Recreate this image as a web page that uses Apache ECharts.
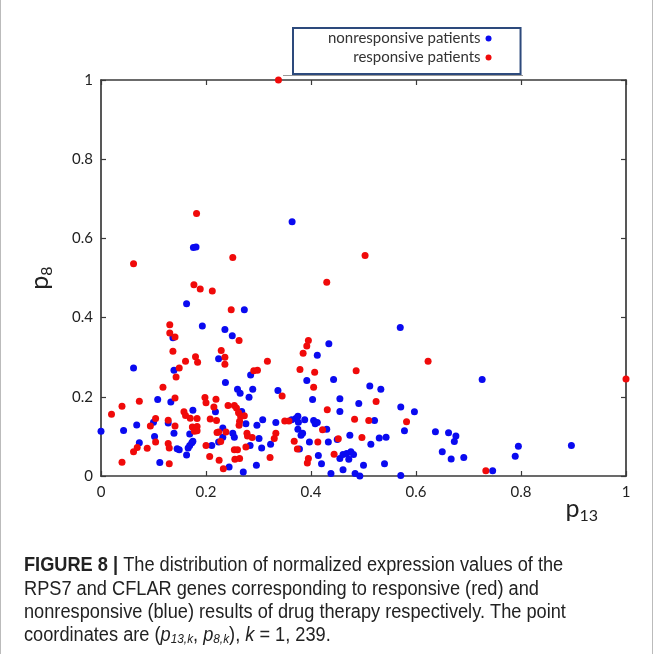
<!DOCTYPE html>
<html>
<head>
<meta charset="utf-8">
<script src="https://cdn.jsdelivr.net/npm/echarts@6/dist/echarts.min.js"></script>
<style>html,body{margin:0;padding:0;background:#fff}#c{width:654px;height:654px}</style>
</head>
<body>
<div id="c"></div>
<script>
// ---- data (p13, p8) ----
const seriesNames = ['nonresponsive patients', 'responsive patients'];
const xTicks = [0, 0.2, 0.4, 0.6, 0.8, 1];
const yTicks = [0, 0.2, 0.4, 0.6, 0.8, 1];

const nonresponsiveP13 = [0.364,0.176,0.181,0.163,0.137,0.193,0.236,0.224,0.062,0.139,0.273,0.250,0.434,0.412,0.285,0.237,0.108,0.133,0.218,0.000,0.043,0.068,0.100,0.128,0.139,0.175,0.169,0.232,0.232,0.224,0.211,0.102,0.073,0.145,0.149,0.166,0.169,0.173,0.175,0.163,0.112,0.260,0.265,0.282,0.289,0.268,0.276,0.251,0.254,0.297,0.308,0.301,0.333,0.337,0.363,0.371,0.375,0.376,0.375,0.384,0.381,0.388,0.323,0.284,0.244,0.271,0.296,0.306,0.378,0.392,0.403,0.443,0.455,0.455,0.405,0.408,0.412,0.430,0.397,0.433,0.450,0.455,0.461,0.468,0.476,0.481,0.472,0.420,0.438,0.461,0.484,0.414,0.474,0.491,0.570,0.726,0.512,0.533,0.571,0.597,0.521,0.578,0.530,0.543,0.514,0.637,0.662,0.676,0.673,0.795,0.896,0.650,0.667,0.691,0.789,0.540,0.500,0.746,0.493,0.571];
const nonresponsiveP8 = [0.642,0.577,0.578,0.435,0.349,0.379,0.370,0.296,0.273,0.267,0.420,0.354,0.334,0.305,0.255,0.236,0.193,0.187,0.162,0.113,0.115,0.129,0.136,0.134,0.108,0.166,0.106,0.121,0.098,0.086,0.077,0.100,0.084,0.069,0.066,0.071,0.077,0.084,0.088,0.053,0.034,0.219,0.209,0.199,0.219,0.163,0.132,0.108,0.098,0.128,0.142,0.095,0.135,0.216,0.142,0.145,0.151,0.136,0.118,0.108,0.103,0.142,0.080,0.077,0.023,0.010,0.027,0.071,0.068,0.241,0.193,0.244,0.195,0.163,0.140,0.132,0.135,0.118,0.086,0.086,0.092,0.044,0.054,0.057,0.061,0.054,0.042,0.031,0.006,0.016,0.006,0.052,0.103,0.183,0.375,0.244,0.227,0.219,0.174,0.162,0.140,0.114,0.096,0.098,0.080,0.112,0.109,0.101,0.087,0.075,0.077,0.061,0.043,0.047,0.050,0.031,0.027,0.013,0.000,0.001];

const responsiveP13 = [0.338,0.182,0.062,0.251,0.503,0.430,0.177,0.189,0.212,0.131,0.131,0.141,0.137,0.161,0.149,0.180,0.184,0.229,0.236,0.236,0.248,0.263,0.395,0.392,0.385,0.317,0.291,0.298,0.379,0.407,0.486,0.143,0.118,0.073,0.141,0.198,0.200,0.219,0.215,0.040,0.020,0.242,0.094,0.104,0.128,0.141,0.158,0.161,0.170,0.183,0.174,0.183,0.178,0.183,0.208,0.220,0.221,0.224,0.238,0.228,0.200,0.104,0.069,0.062,0.088,0.128,0.130,0.207,0.130,0.040,0.225,0.233,0.254,0.258,0.262,0.266,0.273,0.264,0.263,0.278,0.279,0.288,0.333,0.330,0.345,0.350,0.358,0.368,0.254,0.260,0.276,0.255,0.264,0.322,0.374,0.405,0.431,0.483,0.422,0.413,0.452,0.444,0.395,0.393,0.623,1.000,0.524,0.510,0.582,0.497,0.733];
const responsiveP8 = [1.000,0.663,0.536,0.552,0.557,0.489,0.483,0.472,0.467,0.382,0.361,0.351,0.315,0.290,0.273,0.301,0.287,0.317,0.300,0.282,0.420,0.342,0.342,0.328,0.310,0.290,0.266,0.267,0.269,0.262,0.266,0.250,0.224,0.189,0.197,0.198,0.185,0.194,0.174,0.176,0.156,0.178,0.126,0.145,0.141,0.126,0.162,0.153,0.146,0.145,0.124,0.125,0.113,0.114,0.144,0.140,0.110,0.111,0.111,0.087,0.077,0.086,0.072,0.061,0.070,0.082,0.071,0.049,0.031,0.035,0.040,0.018,0.178,0.172,0.160,0.150,0.152,0.138,0.128,0.108,0.101,0.097,0.108,0.095,0.202,0.139,0.139,0.088,0.066,0.066,0.073,0.042,0.044,0.047,0.068,0.224,0.167,0.143,0.117,0.086,0.094,0.055,0.044,0.033,0.290,0.245,0.188,0.140,0.137,0.097,0.013];

const zip = (a, b) => a.map((v, i) => [v, b[i]]);

const chart = echarts.init(document.getElementById('c'), null, {renderer: 'canvas'});
const axisColor = '#3a3a3a';
const lblFont = 'Lato, "Open Sans", sans-serif';
const capFont = '"Liberation Sans", Arial, sans-serif';
const fmt = v => String(+v.toFixed(1));

function mkAxis(pos, labelOpt, extra) {
  return Object.assign({
    type: 'value', min: 0, max: 1, interval: 0.2,
    position: pos,
    axisLine: {show: true, onZero: false, lineStyle: {color: axisColor, width: 1.7}},
    axisTick: {show: true, inside: true, length: 5, lineStyle: {color: axisColor, width: 1.2}},
    axisLabel: labelOpt || {show: false},
    splitLine: {show: false}
  }, extra || {});
}

const subRich = {
  p: {fontSize: 25, fontFamily: lblFont, color: '#222'},
  s: {fontSize: 16, fontFamily: lblFont, color: '#222', padding: [15, 0, 0, 0]}
};

chart.setOption({
  animation: false,
  backgroundColor: '#fff',
  grid: {left: 101, top: 80, width: 525, height: 396},
  xAxis: [
    mkAxis('bottom', {show: true, fontSize: 15, color: '#222', fontFamily: lblFont, margin: 9, formatter: fmt},
      {min: xTicks[0], max: xTicks[xTicks.length - 1],
       name: '{p|p}{s|13}', nameLocation: 'end', nameGap: 0,
       nameTextStyle: {align: 'right', verticalAlign: 'top', padding: [17, 28, 0, 0], rich: subRich}}),
    mkAxis('top', null)
  ],
  yAxis: [
    mkAxis('left', {show: true, fontSize: 15, color: '#222', fontFamily: lblFont, margin: 8, formatter: fmt},
      {min: yTicks[0], max: yTicks[yTicks.length - 1],
       name: '{p|p}{s|8}', nameLocation: 'middle', nameGap: 46, nameRotate: 90,
       nameTextStyle: {rich: subRich}}),
    mkAxis('right', null)
  ],
  legend: {
    orient: 'vertical', left: 293, top: 28, align: 'right',
    data: seriesNames,
    icon: 'circle', itemWidth: 6, itemHeight: 6, itemGap: 4,
    borderColor: '#2d4a7c', borderWidth: 2, borderRadius: 0,
    padding: [3, 29, 9, 35],
    textStyle: {fontSize: 15, color: '#333', fontFamily: lblFont, width: 160, align: 'right'}
  },
  series: [
    {name: seriesNames[0], type: 'scatter', data: zip(nonresponsiveP13, nonresponsiveP8),
     symbolSize: 7, clip: false, itemStyle: {color: '#0a0af0', opacity: 1}},
    {name: seriesNames[1], type: 'scatter', data: zip(responsiveP13, responsiveP8),
     symbolSize: 7, clip: false, itemStyle: {color: '#f00a0a', opacity: 1}}
  ],
  graphic: [
    {type: 'line', shape: {x1: 283, y1: 75.5, x2: 523, y2: 75.5}, style: {stroke: '#999', lineWidth: 1}},
    {type: 'line', shape: {x1: 0.5, y1: 0, x2: 0.5, y2: 654}, style: {stroke: '#bbb', lineWidth: 1}},
    {type: 'line', shape: {x1: 652.5, y1: 0, x2: 652.5, y2: 654}, style: {stroke: '#bbb', lineWidth: 1}},
    {type: 'text', x: 24, y: 565, scaleX: 0.91, style: {
      text: '{b|FIGURE 8 |} The distribution of normalized expression values of the',
      font: '20px ' + capFont, fill: '#222', verticalAlign: 'middle',
      rich: {b: {fontWeight: 'bold', fontSize: 20, fontFamily: capFont}}}},
    {type: 'text', x: 24, y: 589, scaleX: 0.91, style: {
      text: 'RPS7 and CFLAR genes corresponding to responsive (red) and',
      font: '20px ' + capFont, fill: '#222', verticalAlign: 'middle'}},
    {type: 'text', x: 24, y: 612, scaleX: 0.91, style: {
      text: 'nonresponsive (blue) results of drug therapy respectively. The point',
      font: '20px ' + capFont, fill: '#222', verticalAlign: 'middle'}},
    {type: 'text', x: 24, y: 635, scaleX: 0.91, style: {
      text: 'coordinates are ({i|p}{s|13,k}, {i|p}{s|8,k}), {i|k} = 1, 239.',
      font: '20px ' + capFont, fill: '#222', verticalAlign: 'middle',
      rich: {i: {fontStyle: 'italic', fontSize: 20, fontFamily: capFont},
             s: {fontStyle: 'italic', fontSize: 13, fontFamily: capFont, padding: [9, 0, 0, 0]}}}}
  ]
});
</script>
</body>
</html>
